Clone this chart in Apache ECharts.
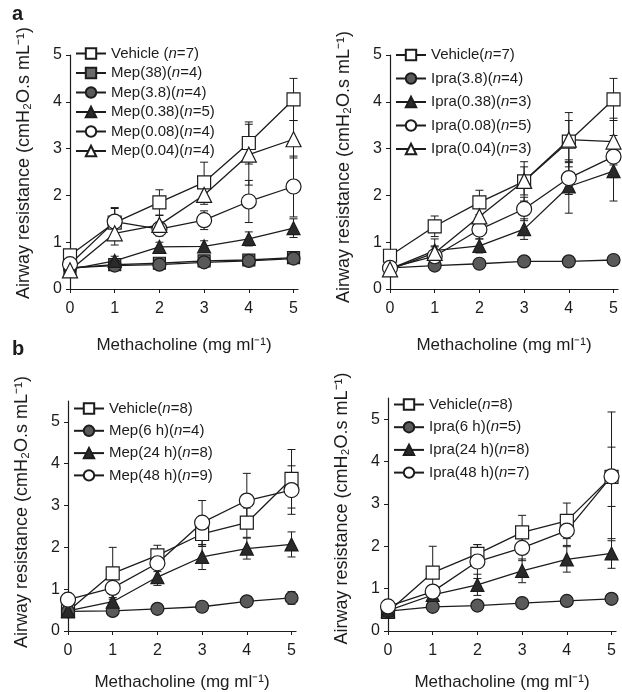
<!DOCTYPE html>
<html>
<head>
<meta charset="utf-8">
<script src="https://cdn.jsdelivr.net/npm/echarts@6/dist/echarts.min.js"></script>
<style>
  html, body { margin: 0; padding: 0; background: #fff; }
  #main { width: 622px; height: 692px; }
</style>
</head>
<body>
<div id="main"></div>
<script>
// methacholine doses
const doses = [0, 1, 2, 3, 4, 5];
const tickValues = [0, 1, 2, 3, 4, 5];

// panel a, left (Mep)
const aL_vehicle = [0.72, 1.42, 1.85, 2.28, 3.12, 4.05];
const aL_vehicleErr = [0.08, 0.3, 0.27, 0.43, 0.45, 0.45];
const aL_mep38 = [0.45, 0.52, 0.55, 0.6, 0.62, 0.67];
const aL_mep38Err = [0.03, 0.05, 0.05, 0.05, 0.05, 0.05];
const aL_mep3_8 = [0.45, 0.5, 0.52, 0.57, 0.6, 0.65];
const aL_mep3_8Err = [0.03, 0.04, 0.04, 0.04, 0.04, 0.04];
const aL_mep0_38 = [0.42, 0.6, 0.9, 0.91, 1.07, 1.3];
const aL_mep0_38Err = [0.03, 0.1, 0.1, 0.12, 0.15, 0.2];
const aL_mep0_08 = [0.53, 1.44, 1.28, 1.47, 1.87, 2.19];
const aL_mep0_08Err = [0.05, 0.3, 0.15, 0.2, 0.45, 0.65];
const aL_mep0_04 = [0.4, 1.19, 1.37, 2.01, 2.87, 3.2];
const aL_mep0_04Err = [0.05, 0.25, 0.2, 0.2, 0.65, 0.4];

// panel a, right (Ipra)
const aR_vehicle = [0.71, 1.34, 1.85, 2.3, 3.15, 4.05];
const aR_vehicleErr = [0.08, 0.22, 0.26, 0.42, 0.45, 0.45];
const aR_ipra3_8 = [0.45, 0.5, 0.54, 0.59, 0.59, 0.62];
const aR_ipra3_8Err = [0.03, 0.03, 0.03, 0.03, 0.03, 0.03];
const aR_ipra0_38 = [0.43, 0.82, 0.92, 1.28, 2.19, 2.52];
const aR_ipra0_38Err = [0.03, 0.1, 0.15, 0.22, 0.57, 0.64];
const aR_ipra0_08 = [0.45, 0.7, 1.27, 1.71, 2.37, 2.83];
const aR_ipra0_08Err = [0.03, 0.2, 0.2, 0.25, 0.35, 0.45];
const aR_ipra0_04 = [0.42, 0.77, 1.55, 2.31, 3.19, 3.15];
const aR_ipra0_04Err = [0.03, 0.3, 0.2, 0.3, 0.58, 0.5];

// panel b, left (Mep, time)
const bL_vehicle = [0.47, 1.38, 1.81, 2.32, 2.59, 3.64];
const bL_vehicleErr = [0.05, 0.62, 0.24, 0.3, 0.35, 0.7];
const bL_mep6 = [0.47, 0.48, 0.53, 0.58, 0.71, 0.79];
const bL_mep6Err = [0.03, 0.05, 0.05, 0.05, 0.1, 0.15];
const bL_mep24 = [0.48, 0.7, 1.29, 1.77, 1.97, 2.07];
const bL_mep24Err = [0.03, 0.1, 0.2, 0.3, 0.25, 0.3];
const bL_mep48 = [0.75, 1.03, 1.62, 2.59, 3.12, 3.37];
const bL_mep48Err = [0.15, 0.15, 0.2, 0.53, 0.65, 0.58];

// panel b, right (Ipra, time)
const bR_vehicle = [0.45, 1.38, 1.82, 2.33, 2.6, 3.64];
const bR_vehicleErr = [0.05, 0.62, 0.22, 0.4, 0.42, 0.7];
const bR_ipra6 = [0.47, 0.57, 0.6, 0.66, 0.71, 0.76];
const bR_ipra6Err = [0.04, 0.04, 0.04, 0.04, 0.04, 0.04];
const bR_ipra24 = [0.48, 0.85, 1.09, 1.42, 1.69, 1.83];
const bR_ipra24Err = [0.03, 0.1, 0.25, 0.28, 0.3, 0.35];
const bR_ipra48 = [0.58, 0.93, 1.64, 1.96, 2.37, 3.65];
const bR_ipra48Err = [0.05, 0.1, 0.4, 0.3, 0.35, 1.52];

const font = 'Liberation Sans, Arial, sans-serif';
const ink = '#1c1c1c';

// marker styles
const styles = {
  openSquare: { symbol: 'rect', fill: '#fff', size: 13 },
  greySquare: { symbol: 'rect', fill: '#6a6a6a', size: 12 },
  darkCircle: { symbol: 'circle', fill: '#5a5a5a', size: 13 },
  darkTriangle: { symbol: 'triangle', fill: '#2a2a2a', size: 13 },
  openCircle: { symbol: 'circle', fill: '#fff', size: 15 },
  openTriangle: { symbol: 'triangle', fill: '#fff', size: 15 }
};

const panels = [
  { grid: { left: 70, top: 55, width: 228, height: 234 }, ymax: 5, xGap: 48, yShift: 18,
    legend: { left: 75, top: 46, gap: 4.5 },
    rows: [
      ['Vehicle (n=7)', aL_vehicle, aL_vehicleErr, 'openSquare'],
      ['Mep(38)(n=4)', aL_mep38, aL_mep38Err, 'greySquare'],
      ['Mep(3.8)(n=4)', aL_mep3_8, aL_mep3_8Err, 'darkCircle'],
      ['Mep(0.38)(n=5)', aL_mep0_38, aL_mep0_38Err, 'darkTriangle'],
      ['Mep(0.08)(n=4)', aL_mep0_08, aL_mep0_08Err, 'openCircle'],
      ['Mep(0.04)(n=4)', aL_mep0_04, aL_mep0_04Err, 'openTriangle']
    ] },
  { grid: { left: 390, top: 55, width: 228, height: 234 }, ymax: 5, xGap: 48, yShift: 10,
    legend: { left: 395, top: 47.5, gap: 8.5 },
    rows: [
      ['Vehicle(n=7)', aR_vehicle, aR_vehicleErr, 'openSquare'],
      ['Ipra(3.8)(n=4)', aR_ipra3_8, aR_ipra3_8Err, 'darkCircle'],
      ['Ipra(0.38)(n=3)', aR_ipra0_38, aR_ipra0_38Err, 'darkTriangle'],
      ['Ipra(0.08)(n=5)', aR_ipra0_08, aR_ipra0_08Err, 'openCircle'],
      ['Ipra(0.04)(n=3)', aR_ipra0_04, aR_ipra0_04Err, 'openTriangle']
    ] },
  { grid: { left: 68, top: 401, width: 228, height: 235 }, ymax: 5.5, xGap: 43, yShift: 8,
    legend: { left: 73, top: 401, gap: 7.3 },
    rows: [
      ['Vehicle(n=8)', bL_vehicle, bL_vehicleErr, 'openSquare'],
      ['Mep(6 h)(n=4)', bL_mep6, bL_mep6Err, 'darkCircle'],
      ['Mep(24 h)(n=8)', bL_mep24, bL_mep24Err, 'darkTriangle'],
      ['Mep(48 h)(n=9)', bL_mep48, bL_mep48Err, 'openCircle']
    ] },
  { grid: { left: 388, top: 398, width: 228, height: 236 }, ymax: 5.5, xGap: 43, yShift: 12,
    legend: { left: 393, top: 397, gap: 7.7 },
    rows: [
      ['Vehicle(n=8)\u200b', bR_vehicle, bR_vehicleErr, 'openSquare'],
      ['Ipra(6 h)(n=5)', bR_ipra6, bR_ipra6Err, 'darkCircle'],
      ['Ipra(24 h)(n=8)', bR_ipra24, bR_ipra24Err, 'darkTriangle'],
      ['Ipra(48 h)(n=7)', bR_ipra48, bR_ipra48Err, 'openCircle']
    ] }
];

function errorBars(params, api) {
  const x = api.value(0);
  const lo = api.coord([x, api.value(1)]);
  const hi = api.coord([x, api.value(2)]);
  const w = 4;
  const st = { stroke: ink, lineWidth: 1 };
  return {
    type: 'group',
    children: [
      { type: 'line', shape: { x1: lo[0], y1: lo[1], x2: hi[0], y2: hi[1] }, style: st },
      { type: 'line', shape: { x1: lo[0] - w, y1: lo[1], x2: lo[0] + w, y2: lo[1] }, style: st },
      { type: 'line', shape: { x1: hi[0] - w, y1: hi[1], x2: hi[0] + w, y2: hi[1] }, style: st }
    ]
  };
}

function legendLabel(name) {
  const clean = name.replace('\u200b', '');
  const parts = clean.split('n=');
  return '{r|' + parts[0] + '}{i|n}{r|=' + parts[1] + '}';
}

const grids = [], xAxes = [], yAxes = [], legends = [], series = [];

panels.forEach((p, k) => {
  grids.push(p.grid);
  xAxes.push({
    type: 'value', gridIndex: k, min: 0, max: 5.1,
    name: 'Methacholine (mg ml\u207B\u00B9)', nameLocation: 'middle', nameGap: p.xGap,
    nameTextStyle: { fontFamily: font, fontSize: 17, color: ink },
    axisLine: { lineStyle: { color: ink, width: 1.2 } },
    axisTick: { customValues: tickValues, inside: false, length: 4, lineStyle: { color: ink } },
    axisLabel: { customValues: tickValues, margin: 12, fontFamily: font, fontSize: 16, color: ink },
    splitLine: { show: false }
  });
  yAxes.push({
    type: 'value', gridIndex: k, min: 0, max: p.ymax,
    name: 'Airway resistance (cmH\u2082O.s mL\u207B\u00B9)', nameLocation: 'middle', nameGap: 37,
    nameTextStyle: { fontFamily: font, fontSize: 18, color: ink, padding: [0, 0, 0, p.yShift] },
    axisLine: { show: true, lineStyle: { color: ink, width: 1.2 } },
    axisTick: { show: true, customValues: tickValues, length: 4, lineStyle: { color: ink } },
    axisLabel: { customValues: tickValues, margin: 8, fontFamily: font, fontSize: 16, color: ink },
    splitLine: { show: false }
  });
  legends.push({
    orient: 'vertical', left: p.legend.left, top: p.legend.top,
    padding: 0, itemGap: p.legend.gap, itemWidth: 30, itemHeight: 13,
    selectedMode: false,
    data: p.rows.map(r => r[0]),
    formatter: legendLabel,
    textStyle: {
      fontFamily: font, fontSize: 15, color: ink,
      rich: {
        r: { fontFamily: font, fontSize: 15, color: ink },
        i: { fontFamily: font, fontSize: 15, color: ink, fontStyle: 'italic' }
      }
    }
  });
  p.rows.forEach(([name, vals, errs, styleKey]) => {
    const s = styles[styleKey];
    series.push({
      type: 'custom', xAxisIndex: k, yAxisIndex: k, silent: true, z: 1,
      renderItem: errorBars,
      encode: { x: 0, y: [1, 2] },
      data: doses.map((d, i) => [d, vals[i] - errs[i], vals[i] + errs[i]])
    });
    series.push({
      name: name, type: 'line', xAxisIndex: k, yAxisIndex: k, z: 3,
      symbol: s.symbol, symbolSize: s.size, showSymbol: true,
      lineStyle: { color: ink, width: 1.3 },
      itemStyle: { color: s.fill, borderColor: ink, borderWidth: 1.2, opacity: 1 },
      emphasis: { disabled: true },
      data: doses.map((d, i) => [d, vals[i]])
    });
  });
});

const chart = echarts.init(document.getElementById('main'), null, { renderer: 'canvas' });
chart.setOption({
  animation: false,
  backgroundColor: '#fff',
  grid: grids,
  xAxis: xAxes,
  yAxis: yAxes,
  legend: legends,
  graphic: [
    { type: 'text', left: 12, top: 4, style: { text: 'a', font: 'bold 20px ' + font, fill: ink } },
    { type: 'text', left: 12, top: 339, style: { text: 'b', font: 'bold 20px ' + font, fill: ink } }
  ],
  series: series
});
</script>
</body>
</html>
